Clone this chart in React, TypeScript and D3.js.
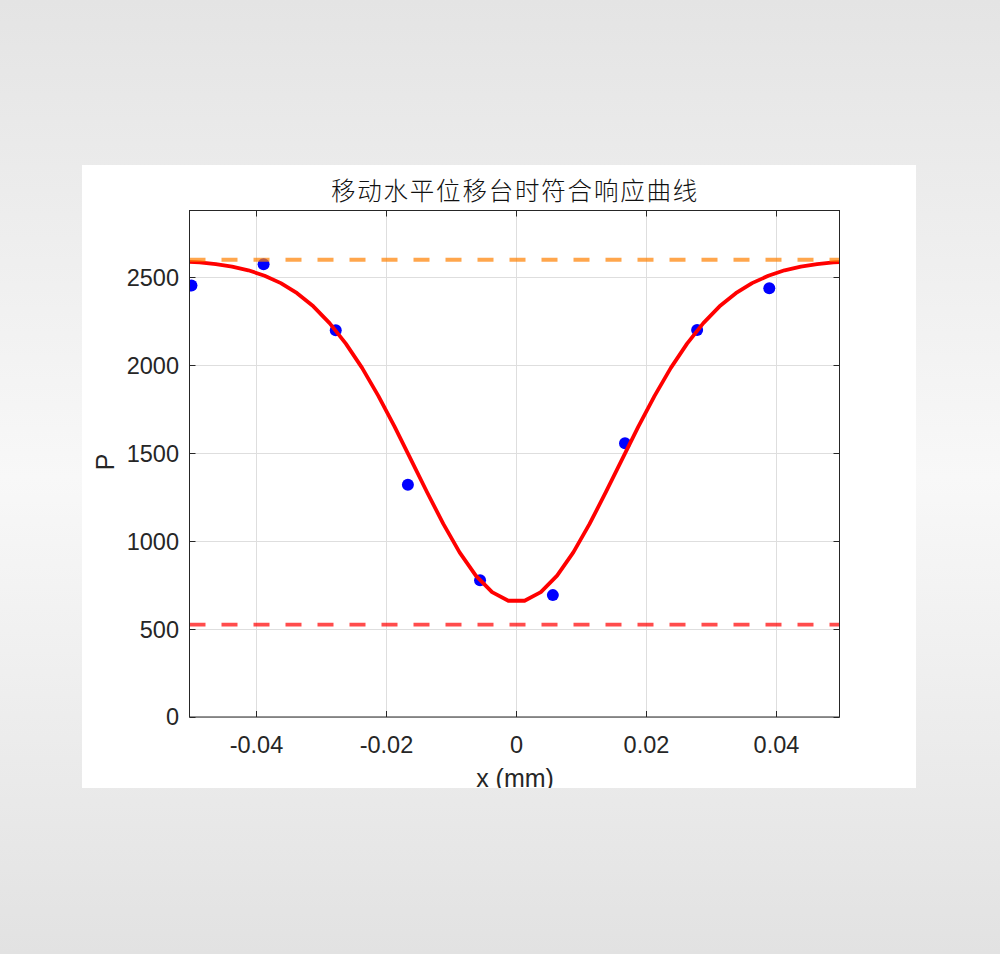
import React from "react";
import * as d3 from "d3";

// ---- data ----
const measX = [-0.05, -0.0389, -0.0278, -0.0167, -0.0056, 0.0056, 0.0167, 0.0278, 0.0389];
const measP = [2454, 2574, 2199, 1321, 778, 693, 1556, 2200, 2438];

const fitX = [
  -0.0503, -0.04875, -0.04625, -0.04375, -0.04125, -0.03875, -0.03625, -0.03375, -0.03125, -0.02875,
  -0.02625, -0.02375, -0.02125, -0.01875, -0.01625, -0.01375, -0.01125, -0.00875, -0.00625, -0.00375,
  -0.00125, 0.00125, 0.00375, 0.00625, 0.00875, 0.01125, 0.01375, 0.01625, 0.01875, 0.02125,
  0.02375, 0.02625, 0.02875, 0.03125, 0.03375, 0.03625, 0.03875, 0.04125, 0.04375, 0.04625,
  0.04875, 0.0497,
];
const fitP = [
  2588, 2585, 2575, 2561, 2540, 2509, 2467, 2410, 2335, 2240,
  2123, 1985, 1826, 1651, 1465, 1278, 1098, 936, 804, 710,
  661, 661, 710, 804, 936, 1098, 1278, 1465, 1651, 1826,
  1985, 2123, 2240, 2335, 2410, 2467, 2509, 2540, 2561, 2575,
  2585, 2587,
];

const upperLevel = 2600;
const lowerLevel = 525;

const xTicks = [-0.04, -0.02, 0, 0.02, 0.04];
const xTickLabels = ["-0.04", "-0.02", "0", "0.02", "0.04"];
const yTicks = [0, 500, 1000, 1500, 2000, 2500];
const yTickLabels = ["0", "500", "1000", "1500", "2000", "2500"];

const xDomain = [-0.0503, 0.0497];
const yDomain = [0, 2880];

const titleText = "移动水平位移台时符合响应曲线";
const xLabel = "x (mm)";
const yLabel = "P";

export default function App() {
  const W = 1000, H = 954;
  const L = 189.5, R = 839.5, T = 210.5, B = 717;
  const x = d3.scaleLinear().domain(xDomain).range([L, R]);
  const y = d3.scaleLinear().domain(yDomain).range([B, T]);
  const line = d3
    .line<number>()
    .x((_, i) => x(fitX[i]))
    .y((d) => y(d))
    .curve(d3.curveLinear);

  const axisColor = "#262626";
  const gridColor = "#dedede";
  const font = "'Liberation Sans', Arial, Helvetica, sans-serif";
  const tickLen = 6;

  return (
    <svg
      width={W}
      height={H}
      style={{ position: "absolute", left: 0, top: 0, display: "block" }}
    >
      <defs>
        <linearGradient id="bg" x1="0" y1="0" x2="0" y2="1">
          <stop offset="0%" stopColor="#e4e4e4" />
          <stop offset="50%" stopColor="#f8f8f8" />
          <stop offset="100%" stopColor="#e2e2e2" />
        </linearGradient>
        <clipPath id="plotClip">
          <rect x={L} y={T} width={R - L} height={B - T} />
        </clipPath>
        <clipPath id="panelClip">
          <rect x={82} y={165} width={834} height={623} />
        </clipPath>
      </defs>
      <rect x={0} y={0} width={W} height={H} fill="url(#bg)" />
      <rect x={82} y={165} width={834} height={623} fill="#ffffff" />

      <g clipPath="url(#panelClip)">
        {/* grid */}
        {xTicks.map((t) => (
          <line key={"gx" + t} x1={Math.round(x(t)) + 0.5} x2={Math.round(x(t)) + 0.5} y1={T} y2={B} stroke={gridColor} strokeWidth={1} />
        ))}
        {yTicks.map((t) => (
          <line key={"gy" + t} x1={L} x2={R} y1={Math.round(y(t)) + 0.5} y2={Math.round(y(t)) + 0.5} stroke={gridColor} strokeWidth={1} />
        ))}

        <g clipPath="url(#plotClip)">
          {/* measured points */}
          {measX.map((mx, i) => (
            <circle key={"p" + i} cx={x(mx)} cy={y(measP[i])} r={6} fill="#0000ff" />
          ))}
          {/* fit curve */}
          <path d={line(fitP) || ""} fill="none" stroke="#ff0000" strokeWidth={3.8} strokeLinejoin="round" />
          {/* reference levels */}
          <line x1={L} x2={R} y1={y(upperLevel)} y2={y(upperLevel)} stroke="#ff8000" strokeOpacity={0.7} strokeWidth={3.8} strokeDasharray="16 16" />
          <line x1={L} x2={R} y1={y(lowerLevel)} y2={y(lowerLevel)} stroke="#ff0000" strokeOpacity={0.7} strokeWidth={3.8} strokeDasharray="16 16" />
        </g>

        {/* box */}
        <rect x={L} y={T} width={R - L} height={B - T} fill="none" stroke={axisColor} strokeWidth={1} />
        {/* ticks */}
        {xTicks.map((t) => {
          const px = Math.round(x(t)) + 0.5;
          return (
            <g key={"tx" + t}>
              <line x1={px} x2={px} y1={B} y2={B - tickLen} stroke={axisColor} />
              <line x1={px} x2={px} y1={T} y2={T + tickLen} stroke={axisColor} />
            </g>
          );
        })}
        {yTicks.map((t) => {
          const py = Math.round(y(t)) + 0.5;
          return (
            <g key={"ty" + t}>
              <line x1={L} x2={L + tickLen} y1={py} y2={py} stroke={axisColor} />
              <line x1={R} x2={R - tickLen} y1={py} y2={py} stroke={axisColor} />
            </g>
          );
        })}

        {/* tick labels */}
        {xTicks.map((t, i) => (
          <text key={"lx" + t} x={x(t)} y={753} textAnchor="middle" fontFamily={font} fontSize={23.5} fill={axisColor}>
            {xTickLabels[i]}
          </text>
        ))}
        {yTicks.map((t, i) => (
          <text key={"ly" + t} x={179} y={y(t)} dy="0.36em" textAnchor="end" fontFamily={font} fontSize={23.5} fill={axisColor}>
            {yTickLabels[i]}
          </text>
        ))}

        {/* axis labels */}
        <text x={515} y={787} textAnchor="middle" fontFamily={font} fontSize={25} fill={axisColor}>
          {xLabel}
        </text>
        <text transform="translate(114,462) rotate(-90)" textAnchor="middle" fontFamily={font} fontSize={25} fill={axisColor}>
          {yLabel}
        </text>

        {/* title */}
        <text x={515} y={200} textAnchor="middle" fontFamily="'Noto Sans CJK SC', sans-serif" fontSize={24.5} letterSpacing={1.8} fill="#111111" fontWeight={300}>
          {titleText}
        </text>
      </g>
    </svg>
  );
}
